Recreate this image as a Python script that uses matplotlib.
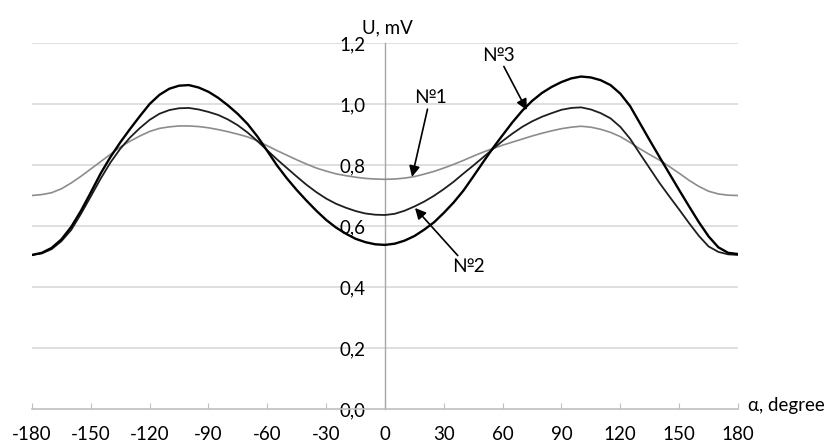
import numpy as np
import matplotlib
matplotlib.use('Agg')
import matplotlib.pyplot as plt

matplotlib.rcParams['font.family'] = ['Lato', 'DejaVu Sans']

# angle, degree
alpha = list(range(-180, 181, 5))

# U, mV  (every 5 degrees)
u1 = [0.700, 0.703, 0.709, 0.722, 0.741, 0.763, 0.787, 0.811, 0.835, 0.859,
      0.878, 0.895, 0.910, 0.920, 0.925, 0.928, 0.928, 0.926, 0.922, 0.916,
      0.909, 0.901, 0.892, 0.879, 0.863, 0.847, 0.832, 0.817, 0.803, 0.790,
      0.780, 0.771, 0.765, 0.760, 0.756, 0.754, 0.753, 0.754, 0.757, 0.762,
      0.770, 0.779, 0.790, 0.802, 0.815, 0.829, 0.842, 0.854, 0.865, 0.875,
      0.885, 0.895, 0.904, 0.912, 0.919, 0.924, 0.927, 0.924, 0.917, 0.907,
      0.893, 0.874, 0.853, 0.834, 0.816, 0.795, 0.773, 0.750, 0.730, 0.714,
      0.705, 0.701, 0.700]
u2 = [0.505, 0.510, 0.524, 0.550, 0.587, 0.640, 0.697, 0.755, 0.808, 0.853,
      0.890, 0.921, 0.948, 0.968, 0.980, 0.986, 0.987, 0.982, 0.974, 0.964,
      0.949, 0.930, 0.906, 0.878, 0.848, 0.818, 0.790, 0.762, 0.735, 0.711,
      0.690, 0.673, 0.660, 0.649, 0.641, 0.637, 0.636, 0.640, 0.650, 0.664,
      0.680, 0.699, 0.721, 0.745, 0.772, 0.798, 0.825, 0.852, 0.879, 0.903,
      0.925, 0.943, 0.958, 0.970, 0.981, 0.987, 0.989, 0.982, 0.970, 0.953,
      0.925, 0.886, 0.837, 0.789, 0.741, 0.697, 0.654, 0.610, 0.568, 0.533,
      0.515, 0.507, 0.505]
u3 = [0.505, 0.512, 0.528, 0.556, 0.597, 0.650, 0.710, 0.772, 0.826, 0.874,
      0.918, 0.960, 1.000, 1.030, 1.050, 1.060, 1.062, 1.054, 1.040, 1.020,
      0.995, 0.967, 0.934, 0.893, 0.846, 0.798, 0.756, 0.718, 0.683, 0.650,
      0.620, 0.595, 0.575, 0.558, 0.547, 0.540, 0.538, 0.542, 0.552, 0.567,
      0.588, 0.612, 0.643, 0.677, 0.716, 0.762, 0.809, 0.855, 0.898, 0.940,
      0.978, 1.010, 1.036, 1.056, 1.072, 1.084, 1.090, 1.087, 1.078, 1.062,
      1.034, 0.993, 0.937, 0.881, 0.826, 0.772, 0.718, 0.665, 0.613, 0.566,
      0.530, 0.512, 0.508]

xticks = list(range(-180, 181, 30))
yticks = [0.0, 0.2, 0.4, 0.6, 0.8, 1.0, 1.2]
ylabels = ['0,0', '0,2', '0,4', '0,6', '0,8', '1,0', '1,2']

fig = plt.figure(figsize=(8.35, 4.46), dpi=100)
ax = fig.add_axes([0.0383, 0.083, 0.8455, 0.8206])

ax.plot(alpha, u1, color='#8c8c8c', lw=1.2, zorder=3)
ax.plot(alpha, u2, color='#1e1e1e', lw=1.3, zorder=4)
ax.plot(alpha, u3, color='black', lw=1.7, zorder=5)

ax.set_xlim(-180, 180)
ax.set_ylim(0, 1.2)

for s in ['top', 'right']:
    ax.spines[s].set_visible(False)
ax.spines['left'].set_position(('data', 0))
ax.spines['left'].set_color('#a6a6a6')
ax.spines['bottom'].set_color('#bfbfbf')
ax.spines['left'].set_linewidth(1.0)
ax.spines['bottom'].set_linewidth(1.2)

ax.set_xticks(xticks)
ax.set_xticklabels([str(t) for t in xticks])
ax.set_yticks(yticks)
ax.set_yticklabels(ylabels)
ax.tick_params(axis='x', direction='in', length=4.5, color='#bfbfbf', pad=12, labelsize=13.5)
ax.tick_params(axis='y', length=0, pad=14, labelsize=13.5)
for y in yticks[1:]:
    ax.axhline(y, color='#d9d9d9', lw=1.2, zorder=1)

ax.text(1.5, 1.25, 'U, mV', ha='center', va='center', fontsize=13.5, clip_on=False)
ax.text(185, 0.013, 'α, degree', ha='left', va='center', fontsize=13.5, clip_on=False)

arr = dict(arrowstyle='-|>', color='black', lw=1.2, mutation_scale=16, shrinkA=0, shrinkB=0)
ax.annotate('№1', xy=(13.8, 0.761), xytext=(23, 1.02), ha='center', va='center',
            fontsize=13.5, arrowprops=arr, zorder=6)
ax.annotate('№3', xy=(72.3, 0.98), xytext=(57.6, 1.16), ha='center', va='center',
            fontsize=13.5, arrowprops=arr, zorder=6)
ax.annotate('№2', xy=(15.3, 0.659), xytext=(42.3, 0.466), ha='center', va='center',
            fontsize=13.5, arrowprops=arr, zorder=6)

plt.savefig('out.png', dpi=100)
